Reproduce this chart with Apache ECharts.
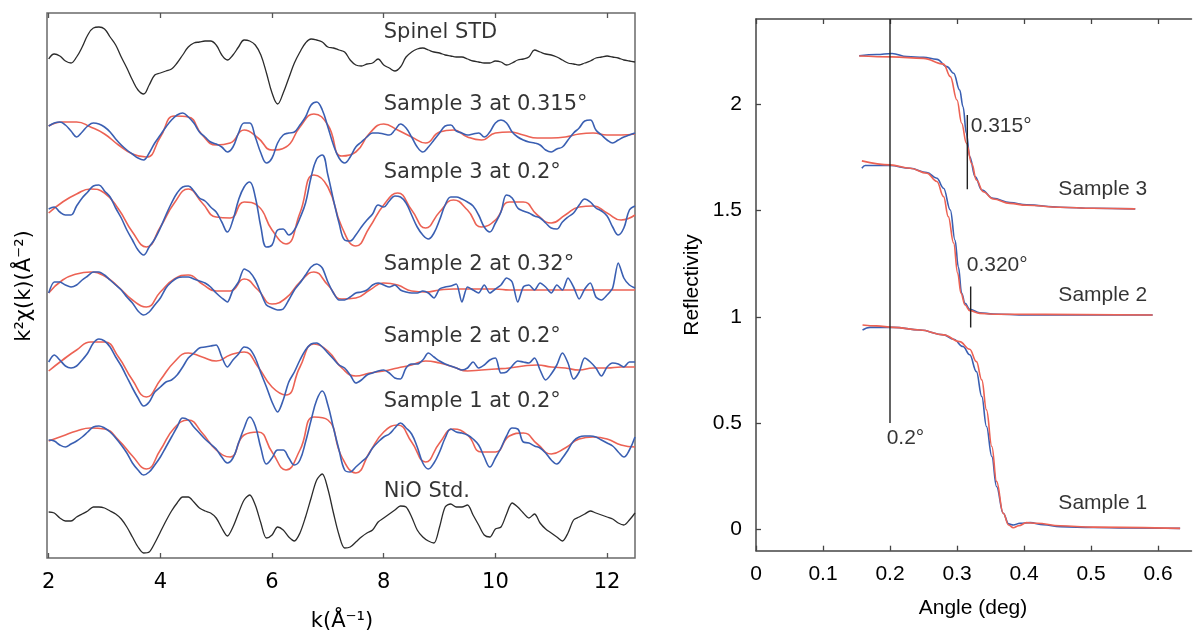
<!DOCTYPE html>
<html>
<head>
<meta charset="utf-8">
<script src="https://cdn.jsdelivr.net/npm/echarts@6/dist/echarts.min.js"></script>
<style>html,body{margin:0;padding:0;background:#fff;}#view{width:1193px;height:634px;}</style>
</head>
<body>
<div id="view"></div>
<script>
var myCharts = echarts.init(document.getElementById("view"));

/* EXAFS panel: k grid (fine = measured, coarse = fits) */
var kFine = [2, 2.1, 2.2, 2.3, 2.4, 2.5, 2.6, 2.7, 2.8, 2.9,
    3, 3.1, 3.2, 3.3, 3.4, 3.5, 3.6, 3.7, 3.8, 3.9,
    4, 4.1, 4.2, 4.3, 4.4, 4.5, 4.6, 4.7, 4.8, 4.9,
    5, 5.1, 5.2, 5.3, 5.4, 5.5, 5.6, 5.7, 5.8, 5.9,
    6, 6.1, 6.2, 6.3, 6.4, 6.5, 6.6, 6.7, 6.8, 6.9,
    7, 7.1, 7.2, 7.3, 7.4, 7.5, 7.6, 7.7, 7.8, 7.9,
    8, 8.1, 8.2, 8.3, 8.4, 8.5, 8.6, 8.7, 8.8, 8.9,
    9, 9.1, 9.2, 9.3, 9.4, 9.5, 9.6, 9.7, 9.8, 9.9,
    10, 10.1, 10.2, 10.3, 10.4, 10.5, 10.6, 10.7, 10.8, 10.9,
    11, 11.1, 11.2, 11.3, 11.4, 11.5, 11.6, 11.7, 11.8, 11.9,
    12, 12.1, 12.2, 12.3, 12.4, 12.5];
var kCoarse = [2, 2.25, 2.5, 2.75, 3, 3.25, 3.5, 3.75, 4, 4.25, 4.5, 4.75, 5, 5.25, 5.5, 5.75,
    6, 6.25, 6.5, 6.75, 7, 7.25, 7.5, 7.75, 8, 8.25, 8.5, 8.75, 9, 9.25, 9.5, 9.75,
    10, 10.25, 10.5, 10.75, 11, 11.25, 11.5, 11.75, 12, 12.25, 12.5];

// vertical offsets of the stacked spectra
var offsets = { spinel: 498, s3a: 430, s3b: 348, s2a: 268, s2b: 193, s1: 118, nio: 43 };

var spinel = [1, 6, 4, -1, -3, 3, 13, 25, 32, 33,
    31, 23, 15, 3, -8, -20, -30, -34, -25, -15,
    -13, -11, -9, -3, 5, 13, 17, 18, 19, 19,
    15, 5, 0, 5, 13, 20, 19, 15, 5, -13,
    -33, -44, -33, -18, -3, 8, 17, 21, 20, 18,
    13, 12, 10, 8, 0, -5, -6, -4, -3, 1,
    -5, -8, -11, -7, 3, 8, 11, 12, 10, 8,
    7, 5, 4, 3, 3, 1, -1, -2, -3, -3,
    -1, -2, -5, -3, 0, 1, 3, 10, 8, 6,
    5, 3, 0, -3, -4, -5, -3, -1, 2, 3,
    4, 3, 2, 0, -1, -2];

var s3aBlue = [2, 5, 6, 3, -3, -9, -4, 2, 5, 4,
    1, -4, -11, -17, -22, -26, -30, -32, -25, -15,
    -7, 1, 8, 13, 15, 11, 5, -4, -9, -14,
    -16, -19, -24, -19, -5, 5, 5, -9, -25, -35,
    -30, -15, -7, -5, -4, 3, 11, 23, 26, 18,
    1, -17, -30, -35, -29, -19, -14, -9, -5, -5,
    -6, -7, -2, 4, 0, -9, -19, -24, -19, -12,
    -5, 2, 3, -3, -5, -7, -6, -5, -9, -4,
    5, 8, 5, -4, -9, -12, -14, -15, -17, -22,
    -24, -21, -19, -12, -5, 0, 7, 8, -2, -7,
    -12, -15, -12, -9, -7, -5];
var s3aRed = [2, 6, 6, 1, -6, -17, -26, -29, -9, 12, 11, -7, -17, -15, -2, -10, -22, -19, 1, 14,
    3, -28, -24, -5, 4, -2, -9, -15, -4, -2, -9, -12, -5, -4, -7, -10, -10, -9, -6, -5, -7, -7, -6];

var s3bBlue = [1, 3, -2, -5, -5, 4, 12, 18, 24, 25,
    19, 13, 2, -8, -20, -30, -40, -45, -37, -29,
    -18, -5, 7, 17, 23, 24, 19, 12, 9, 3,
    -2, -12, -22, -10, 10, 23, 28, 13, -17, -37,
    -35, -20, -19, -25, -20, -8, 7, 33, 51, 55,
    35, 10, -13, -30, -31, -25, -17, -10, -4, 5,
    3, 9, 14, 13, 7, -5, -17, -25, -29, -23,
    -10, 5, 13, 13, 11, 8, 4, -5, -17, -22,
    -13, -2, 15, 12, 2, -1, -3, -6, -8, -13,
    -18, -19, -12, -7, -3, 5, 11, 8, 2, -1,
    -6, -17, -25, -18, 0, 4];
var s3bRed = [-3, 8, 16, 21, 17, 1, -22, -37, -17, 7, 21, 7, -7, -8, 8, 4, -20, -34, -3, 35,
    23, -17, -36, -17, 5, 17, 0, -18, -2, 10, 0, -17, -10, 8, 8, -5, -13, -5, 3, 4, -3, -10, -5];

var s2aBlue = [-3, 8, 8, 5, 3, 5, 10, 14, 18, 18,
    15, 10, 5, 0, -7, -13, -21, -25, -22, -15,
    -8, 2, 8, 12, 13, 13, 11, 9, 7, 3,
    -3, -8, -12, 0, 8, 21, 18, 10, -3, -15,
    -18, -20, -19, -10, 0, 7, 15, 23, 26, 22,
    8, -3, -10, -10, -7, -3, -2, 0, 5, 7,
    5, 3, 5, 0, -2, -3, -3, -1, -3, -8,
    1, 3, 4, 6, -12, 3, 0, -3, 5, -3,
    1, 5, 12, 8, -12, 3, 5, 0, 7, 3,
    -3, 5, 0, 12, 3, -9, 1, 7, -7, -10,
    -5, 2, 27, 12, 5, 2];
var s2aRed = [-3, 10, 16, 18, 14, 3, -10, -17, -2, 11, 15, 6, -1, -1, 11, 0, -14, -8, 8, 18,
    5, -9, -8, 0, 7, 5, -1, -2, 0, 1, 1, 1, 1, 0, 0, 0, 0, 0, 0, 0, 0, 0, 0];

var s2bBlue = [3, 10, 5, -1, -3, -1, 5, 12, 22, 26,
    24, 18, 8, -1, -12, -23, -33, -41, -37, -27,
    -22, -17, -15, -10, -2, 7, 12, 17, 18, 19,
    20, 8, -2, 5, 11, 18, 16, 7, -8, -22,
    -37, -47, -35, -17, -7, 5, 15, 21, 22, 18,
    12, 6, 0, -3, -10, -18, -15, -10, -8, -6,
    -5, -8, -13, -14, -3, 1, 1, 5, 12, 8,
    4, 1, -1, -3, -5, -3, 3, -3, 0, 5,
    7, -8, -7, -1, 4, 3, 2, 7, -5, -15,
    -9, 0, 12, 2, -14, -7, 7, 3, -3, -11,
    -2, 2, 1, -2, 3, 3];
var s2bRed = [-6, 5, 15, 23, 23, 8, -15, -32, -15, 3, 12, 8, 4, 10, 13, -2, -22, -30, -2, 21,
    14, -3, -11, -8, -6, -3, 0, 4, 2, -2, -6, -5, -4, -3, -1, 0, -2, -3, -5, -3, -3, -2, -2];

var s1Blue = [0, -1, -5, -7, -4, -1, 3, 8, 13, 14,
    12, 8, 2, -5, -13, -23, -30, -35, -32, -25,
    -17, -7, 3, 13, 22, 20, 13, 7, 1, -4,
    -9, -17, -23, -18, -3, 12, 23, 14, -8, -24,
    -18, -10, -10, -18, -25, -20, -2, 20, 40, 49,
    35, 12, -10, -30, -32, -27, -22, -17, -8, -2,
    3, 6, 12, 17, 12, 6, -7, -23, -29, -23,
    -12, 2, 11, 8, 7, 5, 1, -5, -17, -27,
    -18, -8, 4, 12, 11, -2, -3, -6, -8, -13,
    -20, -24, -18, -10, -1, 3, 4, 4, 3, 0,
    -3, -6, -12, -17, -10, 3];
var s1Red = [-1, 4, 9, 12, 11, 0, -16, -29, -10, 12, 20, 7, -10, -17, 5, 8, -12, -30, -10, 23,
    20, -17, -33, -12, 8, 15, -2, -22, -3, 11, 5, -12, -12, 4, 7, -4, -14, -8, 1, 3, 1, -5, -7];

var nio = [3, 2, -3, -6, -6, -2, 1, 4, 8, 8,
    7, 4, 1, -4, -12, -22, -32, -38, -37, -28,
    -17, -6, 4, 12, 18, 18, 13, 7, 4, 2,
    -3, -13, -21, -12, 2, 15, 20, 10, -8, -23,
    -20, -12, -15, -22, -26, -18, -2, 17, 35, 41,
    26, 2, -20, -33, -32, -27, -22, -18, -15, -7,
    -3, 1, 5, 9, 8, -2, -15, -22, -26, -28,
    -12, 8, 11, 8, 8, 10, 0, -10, -20, -22,
    -14, -12, 1, 12, 8, 2, -3, 1, -8, -14,
    -18, -22, -26, -18, -5, -2, 1, 4, 2, 0,
    -2, -4, -8, -10, -5, 2];

var spectraLabels = ['Spinel STD', 'Sample 3 at 0.315°', 'Sample 3 at 0.2°', 'Sample 2 at 0.32°',
    'Sample 2 at 0.2°', 'Sample 1 at 0.2°', 'NiO Std.'];
var spectraLabelY = [525, 453, 385, 293, 221, 156, 66];

/* reflectivity panel */
var angle3Blue = [0.154, 0.180, 0.203, 0.225, 0.25, 0.27, 0.285, 0.295, 0.304, 0.309, 0.314, 0.319, 0.327, 0.337, 0.354, 0.379, 0.404, 0.454, 0.503, 0.566];
var refl3Blue = [2.227, 2.233, 2.238, 2.223, 2.22, 2.21, 2.176, 2.145, 2.066, 1.988, 1.863, 1.753, 1.659, 1.596, 1.557, 1.537, 1.526, 1.515, 1.51, 1.507];
var angle3Red = [0.154, 0.203, 0.25, 0.28, 0.29, 0.30, 0.307, 0.314, 0.322, 0.329, 0.339, 0.354, 0.379, 0.404, 0.454, 0.503, 0.566];
var refl3Red = [2.226, 2.222, 2.215, 2.188, 2.129, 2.019, 1.91, 1.816, 1.72, 1.643, 1.588, 1.554, 1.533, 1.524, 1.515, 1.51, 1.507];

var angle2Blue = [0.158, 0.163, 0.2, 0.23, 0.255, 0.27, 0.28, 0.29, 0.297, 0.302, 0.307, 0.312, 0.319, 0.334, 0.354, 0.404, 0.503, 0.592];
var refl2Blue = [1.698, 1.711, 1.711, 1.698, 1.678, 1.651, 1.604, 1.502, 1.361, 1.235, 1.11, 1.063, 1.035, 1.019, 1.013, 1.008, 1.008, 1.008];
var angle2Red = [0.158, 0.2, 0.23, 0.255, 0.27, 0.28, 0.287, 0.295, 0.301, 0.306, 0.312, 0.319, 0.334, 0.354, 0.592];
var refl2Red = [1.733, 1.714, 1.698, 1.675, 1.636, 1.565, 1.471, 1.346, 1.205, 1.11, 1.055, 1.029, 1.016, 1.012, 1.008];

var angle1Blue = [0.159, 0.170, 0.205, 0.245, 0.28, 0.295, 0.309, 0.319, 0.329, 0.337, 0.344, 0.352, 0.359, 0.369, 0.377, 0.384, 0.394, 0.409, 0.429, 0.454, 0.503, 0.553, 0.633];
var refl1Blue = [0.938, 0.95, 0.95, 0.938, 0.915, 0.894, 0.86, 0.821, 0.742, 0.625, 0.484, 0.343, 0.202, 0.076, 0.026, 0.021, 0.029, 0.032, 0.022, 0.013, 0.009, 0.007, 0.005];
var angle1Red = [0.159, 0.18, 0.205, 0.245, 0.28, 0.304, 0.319, 0.329, 0.337, 0.344, 0.352, 0.359, 0.369, 0.377, 0.384, 0.392, 0.404, 0.419, 0.454, 0.503, 0.633];
var refl1Red = [0.961, 0.957, 0.95, 0.938, 0.915, 0.883, 0.847, 0.789, 0.703, 0.562, 0.39, 0.226, 0.076, 0.021, 0.008, 0.017, 0.032, 0.029, 0.017, 0.011, 0.005];

// critical-angle markers
var markAngle = [0.2, 0.3154, 0.3204];
var markTop = [2.4, 1.949, 1.142];
var markBottom = [0.5, 1.599, 0.95];

var reflLabels = ['0.2°', '0.315°', '0.320°', 'Sample 3', 'Sample 2', 'Sample 1'];
var reflLabelX = [0.195, 0.3204, 0.3145, 0.4513, 0.4513, 0.4513];
var reflLabelY = [0.43, 1.894, 1.243, 1.60, 1.10, 0.123];

var BLUE = '#3a5fb2';
var RED = '#ec6254';
var INK = '#000';
var LEFT_FONT = 'DejaVu Sans';
var RIGHT_FONT = 'Liberation Sans';

function pairs(xs, ys, off) {
    return xs.map(function (x, i) { return [x, (off || 0) + ys[i]]; });
}

function spec(data, color, width, smooth) {
    return {
        type: 'line', xAxisIndex: 0, yAxisIndex: 0,
        data: data, symbol: 'none', smooth: smooth, silent: true,
        lineStyle: { color: color, width: width }
    };
}

function refl(xs, ys, color) {
    return {
        type: 'line', xAxisIndex: 2, yAxisIndex: 1,
        data: pairs(xs, ys), symbol: 'none', smooth: 0.4, smoothMonotone: 'x', silent: true,
        lineStyle: { color: color, width: 1.6 }
    };
}

var series = [
    spec(pairs(kFine, spinel, offsets.spinel), '#2b2b2b', 1.3, 0.4),
    spec(pairs(kCoarse, s3aRed, offsets.s3a), RED, 1.6, 0.5),
    spec(pairs(kFine, s3aBlue, offsets.s3a), BLUE, 1.6, 0.4),
    spec(pairs(kCoarse, s3bRed, offsets.s3b), RED, 1.6, 0.5),
    spec(pairs(kFine, s3bBlue, offsets.s3b), BLUE, 1.6, 0.4),
    spec(pairs(kCoarse, s2aRed, offsets.s2a), RED, 1.6, 0.5),
    spec(pairs(kFine, s2aBlue, offsets.s2a), BLUE, 1.6, 0.25),
    spec(pairs(kCoarse, s2bRed, offsets.s2b), RED, 1.6, 0.5),
    spec(pairs(kFine, s2bBlue, offsets.s2b), BLUE, 1.6, 0.3),
    spec(pairs(kCoarse, s1Red, offsets.s1), RED, 1.6, 0.5),
    spec(pairs(kFine, s1Blue, offsets.s1), BLUE, 1.6, 0.4),
    spec(pairs(kFine, nio, offsets.nio), '#2b2b2b', 1.3, 0.3),
    refl(angle3Blue, refl3Blue, BLUE),
    refl(angle3Red, refl3Red, RED),
    refl(angle2Blue, refl2Blue, BLUE),
    refl(angle2Red, refl2Red, RED),
    refl(angle1Blue, refl1Blue, BLUE),
    refl(angle1Red, refl1Red, RED)
];

markAngle.forEach(function (a, i) {
    series.push({
        type: 'line', xAxisIndex: 2, yAxisIndex: 1, symbol: 'none', silent: true,
        data: [[a, markTop[i]], [a, markBottom[i]]],
        lineStyle: { color: '#222', width: 1.4 }
    });
});

// text labels anchored in data space
series.push({
    type: 'scatter', xAxisIndex: 0, yAxisIndex: 0, symbolSize: 0, silent: true,
    data: spectraLabels.map(function (t, i) { return { name: t, value: [8, spectraLabelY[i]] }; }),
    label: { show: true, position: 'right', distance: 0, formatter: '{b}', color: INK, fontSize: 21, fontFamily: LEFT_FONT }
});
series.push({
    type: 'scatter', xAxisIndex: 2, yAxisIndex: 1, symbolSize: 0, silent: true,
    data: reflLabels.map(function (t, i) { return { name: t, value: [reflLabelX[i], reflLabelY[i]] }; }),
    label: { show: true, position: 'right', distance: 0, formatter: '{b}', color: INK, fontSize: 21, fontFamily: RIGHT_FONT }
});

var kTicks = [2, 4, 6, 8, 10, 12];
var angleTicks = [0, 0.1, 0.2, 0.3, 0.4, 0.5, 0.6];
var reflTicks = [0, 0.5, 1, 1.5, 2];

option = {
    animation: false,
    backgroundColor: '#fff',
    grid: [
        { left: 47, top: 13, width: 588, height: 545, show: true, borderColor: '#6a6a6a', borderWidth: 1.5 },
        { left: 756, top: 19, width: 435.5, height: 531.7 }
    ],
    xAxis: [
        {
            gridIndex: 0, type: 'value', min: 1.97, max: 12.5, position: 'bottom',
            axisLine: { show: false }, splitLine: { show: false },
            axisTick: { inside: true, length: 5, customValues: kTicks, lineStyle: { color: '#555', width: 1.3 } },
            axisLabel: { customValues: kTicks, fontSize: 21, fontFamily: LEFT_FONT, color: INK, margin: 14 }
        },
        {
            gridIndex: 0, type: 'value', min: 1.97, max: 12.5, position: 'top',
            axisLine: { show: false }, splitLine: { show: false }, axisLabel: { show: false },
            axisTick: { inside: true, length: 5, customValues: kTicks, lineStyle: { color: '#555', width: 1.3 } }
        },
        {
            gridIndex: 1, type: 'value', min: 0, max: 0.65, position: 'bottom',
            axisLine: { show: true, onZero: false, lineStyle: { color: '#444', width: 1.5 } },
            splitLine: { show: false },
            axisTick: { inside: true, length: 5, customValues: angleTicks, lineStyle: { color: '#444', width: 1.3 } },
            axisLabel: { customValues: angleTicks, fontSize: 21, fontFamily: RIGHT_FONT, color: INK, margin: 13 }
        },
        {
            gridIndex: 1, type: 'value', min: 0, max: 0.65, position: 'top',
            axisLine: { show: true, onZero: false, lineStyle: { color: '#444', width: 1.5 } },
            splitLine: { show: false }, axisLabel: { show: false },
            axisTick: { inside: true, length: 5, customValues: angleTicks, lineStyle: { color: '#444', width: 1.3 } }
        }
    ],
    yAxis: [
        { gridIndex: 0, type: 'value', min: 0, max: 545, show: false },
        {
            gridIndex: 1, type: 'value', min: -0.1, max: 2.4,
            axisLine: { show: true, onZero: false, lineStyle: { color: '#444', width: 1.5 } },
            splitLine: { show: false },
            axisTick: { show: true, inside: true, length: 5, customValues: reflTicks, lineStyle: { color: '#444', width: 1.3 } },
            axisLabel: { customValues: reflTicks, fontSize: 21, fontFamily: RIGHT_FONT, color: INK, margin: 14 }
        }
    ],
    graphic: [
        { type: 'text', x: 25, y: 286, rotation: Math.PI / 2,
          style: { text: 'k²χ(k)(Å⁻²)', fill: INK, fontSize: 21, fontFamily: LEFT_FONT, align: 'center', verticalAlign: 'middle' } },
        { type: 'text', x: 342, y: 622,
          style: { text: 'k(Å⁻¹)', fill: INK, fontSize: 21, fontFamily: LEFT_FONT, align: 'center', verticalAlign: 'middle' } },
        { type: 'text', x: 692, y: 285, rotation: Math.PI / 2,
          style: { text: 'Reflectivity', fill: INK, fontSize: 21, fontFamily: RIGHT_FONT, align: 'center', verticalAlign: 'middle' } },
        { type: 'text', x: 973, y: 608,
          style: { text: 'Angle (deg)', fill: INK, fontSize: 21, fontFamily: RIGHT_FONT, align: 'center', verticalAlign: 'middle' } }
    ],
    series: series
};

myCharts.setOption(option);
</script>
</body>
</html>
